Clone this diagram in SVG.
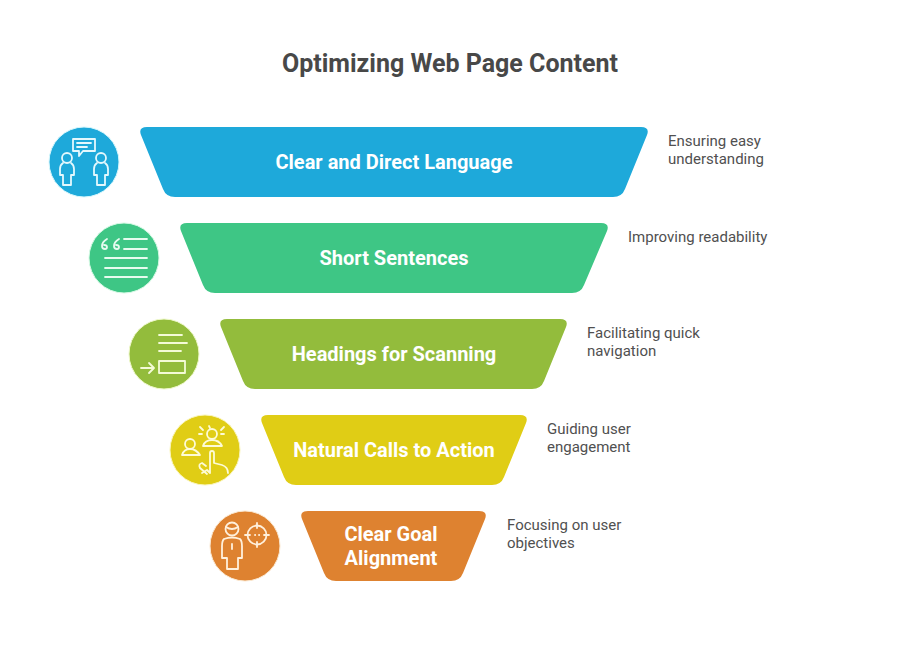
<svg xmlns="http://www.w3.org/2000/svg" width="900" height="655" viewBox="0 0 900 655">
<style>
text{font-family:Roboto,"Liberation Sans",sans-serif}
.title{font-size:25px;font-weight:700;fill:#484848;text-anchor:middle}
.lbl{font-size:20px;font-weight:700;fill:#fff;text-anchor:middle}
.note{font-size:15px;fill:#505050}
.ic{fill:none;stroke-width:1.800;stroke-linecap:round;stroke-linejoin:round}
</style>
<rect width="900" height="655" fill="#fff"/>
<text class="title" x="450" y="72">Optimizing Web Page Content</text>
<g id="connectors"/>
<g id="node-1">
<path fill="#1ea9da" d="M147 127H641Q650 127 647 135L625 189Q622 197 613 197H175Q166 197 163 189L141 135Q138 127 147 127Z"/>
<text class="lbl" x="394" y="169">Clear and Direct Language</text>
<circle cx="84" cy="162" r="35" fill="#1ea9da" stroke="#d5f7fd" stroke-width="1"/>
<g class="ic" stroke="#e4f8fd">
<path d="M73 139H95V151H83L79 156V151H73Z"/><path d="M77 143H91M77 147H87"/>
<circle cx="67" cy="158" r="5"/><circle cx="101" cy="158" r="5"/>
<path d="M63 163Q60 165 60 169V175H63V185H71V175H74V169Q74 165 71 163"/>
<path d="M97 163Q94 165 94 169V175H97V185H105V175H108V169Q108 165 105 163"/>
</g>
</g>
<g id="node-2">
<path fill="#3ec685" d="M187 223H601Q610 223 607 231L584 285Q581 293 572 293H215Q206 293 203 285L181 231Q178 223 187 223Z"/>
<text class="lbl" x="394" y="265">Short Sentences</text>
<circle cx="124" cy="258" r="35" fill="#3ec685" stroke="#d5f9e4" stroke-width="1"/>
<g class="ic" stroke="#e6fbef">
<path d="M124 239H147M124 249H147M105 258H147M105 268H147M105 277H147"/>
<path d="M107 239Q102 242 102 246Q102 249 105 249Q107 249 107 247Q107 245 104 245M119 239Q114 242 114 246Q114 249 117 249Q119 249 119 247Q119 245 116 245"/>
</g>
</g>
<g id="node-3">
<path fill="#93bc3c" d="M227 319H560Q569 319 566 327L544 381Q541 389 532 389H255Q246 389 243 381L221 327Q218 319 227 319Z"/>
<text class="lbl" x="394" y="361">Headings for Scanning</text>
<circle cx="164" cy="354" r="35" fill="#93bc3c" stroke="#eef8c8" stroke-width="1"/>
<g class="ic" stroke="#f4fbd8">
<path d="M159 335H182M159 343H187M159 351H181"/>
<rect x="159" y="361" width="26" height="12"/>
<path d="M141 368H153M149 363L154 368L149 373"/>
</g>
</g>
<g id="node-4">
<path fill="#e0cd15" d="M268 415H520Q529 415 526 423L504 477Q501 485 492 485H296Q287 485 284 477L262 423Q259 415 268 415Z"/>
<text class="lbl" x="394" y="457">Natural Calls to Action</text>
<circle cx="205" cy="450" r="35" fill="#e0cd15" stroke="#faf5b8" stroke-width="1"/>
<g class="ic" stroke="#fdfbd6">
<circle cx="190" cy="444" r="5"/><path d="M182 455Q184 449 190 449Q196 449 200 455Z"/>
<circle cx="212" cy="434" r="5"/><path d="M203 446Q205 440 212 440Q219 440 222 446Z"/>
<path d="M200 427L203 430M199 434H202M209 426L210 428M224 427L221 430M224 434H221"/>
<path d="M202 473L207 470L210 473V453Q210 451 212 451Q214 451 214 453V463L222 465Q228 467 228 473"/>
<path d="M200 468L207 474M200 468Q198 464 202 463L206 466"/>
</g>
</g>
<g id="node-5">
<path fill="#de8230" d="M308 511H479Q488 511 485 519L463 573Q460 581 451 581H336Q327 581 324 573L302 519Q299 511 308 511Z"/>
<text class="lbl" x="391" y="541">Clear Goal</text>
<text class="lbl" x="391" y="565">Alignment</text>
<circle cx="245" cy="546" r="35" fill="#de8230" stroke="#fbe8d0" stroke-width="1"/>
<g class="ic" stroke="#fff0dc">
<circle cx="232" cy="529" r="6.500"/><path d="M226 527Q232 531 238 527"/>
<path d="M224 539Q222 541 222 546V558H227V569H238V558H242V546Q242 541 240 539Q232 536 224 539Z"/><path d="M232 544V549"/>
<circle cx="257" cy="535" r="9.500"/><path d="M257 523V528M257 542V547M245 535H250M264 535H269"/>
<path d="M255 535H255.200M259 535H259.200"/>
</g>
</g>
<text class="note" x="668" y="146">Ensuring easy</text>
<text class="note" x="668" y="164">understanding</text>
<text class="note" x="628" y="242">Improving readability</text>
<text class="note" x="587" y="338">Facilitating quick</text>
<text class="note" x="587" y="356">navigation</text>
<text class="note" x="547" y="434">Guiding user</text>
<text class="note" x="547" y="452">engagement</text>
<text class="note" x="507" y="530">Focusing on user</text>
<text class="note" x="507" y="548">objectives</text>
</svg>
